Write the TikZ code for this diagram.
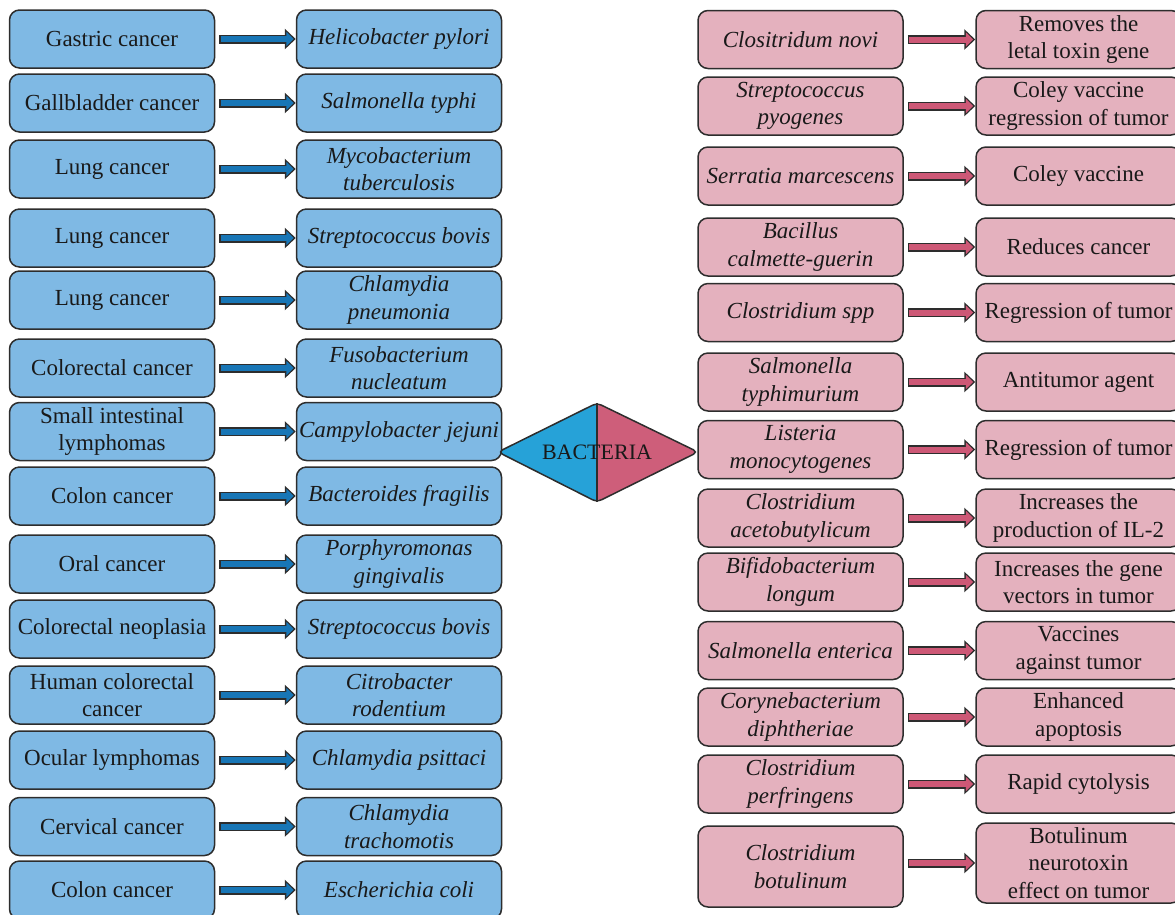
\documentclass[tikz,border=0pt]{standalone}
\usepackage{fontspec}
\setmainfont{Liberation Serif}
\usetikzlibrary{arrows.meta}
\definecolor{cblue}{RGB}{127,185,228}
\definecolor{cpink}{RGB}{228,177,190}
\definecolor{ablue}{RGB}{24,118,182}
\definecolor{apink}{RGB}{205,88,118}
\definecolor{dblue}{RGB}{38,162,216}
\definecolor{dpink}{RGB}{206,94,122}
\definecolor{edge}{RGB}{45,45,45}
\tikzset{
  box/.style={draw=edge, line width=1.5pt, rounded corners=10pt, minimum width=205pt, minimum height=58pt,
    inner sep=2pt, align=center, text=black!90, font=\fontsize{23}{27.5}\selectfont},
  cbox/.style={box, fill=cblue},
  bbox/.style={box, fill=cblue, font=\fontsize{23}{27.5}\selectfont\itshape},
  pbox/.style={box, fill=cpink, font=\fontsize{23}{27.5}\selectfont\itshape},
  ebox/.style={box, fill=cpink},
  barr/.style={line width=9pt, draw=edge, shorten <=4pt, -{Triangle[length=11pt,width=20pt]},
    postaction={draw=#1, line width=6pt, shorten <=5.5pt, shorten >=2pt, -{Triangle[length=7.5pt,width=14pt]}}}
}
\begin{document}
\begin{tikzpicture}[x=1pt,y=-1pt]
  \useasboundingbox (0,0) rectangle (1175,914);
  % cancers and bacteria
  \node[cbox] (c1) at (112,39) {Gastric cancer};
  \node[bbox] (b1) at (399,39) {Helicobacter pylori};
  \node[cbox] (c2) at (112,103) {Gallbladder cancer};
  \node[bbox] (b2) at (399,103) {Salmonella typhi};
  \node[cbox] (c3) at (112,169) {Lung cancer};
  \node[bbox] (b3) at (399,169) {Mycobacterium\\tuberculosis};
  \node[cbox] (c4) at (112,238) {Lung cancer};
  \node[bbox] (b4) at (399,238) {Streptococcus bovis};
  \node[cbox] (c5) at (112,300) {Lung cancer};
  \node[bbox] (b5) at (399,300) {Chlamydia\\pneumonia};
  \node[cbox] (c6) at (112,368) {Colorectal cancer};
  \node[bbox] (b6) at (399,368) {Fusobacterium\\nucleatum};
  \node[cbox] (c7) at (112,431.5) {Small intestinal\\lymphomas};
  \node[bbox] (b7) at (399,431.5) {Campylobacter jejuni};
  \node[cbox] (c8) at (112,496) {Colon cancer};
  \node[bbox] (b8) at (399,496) {Bacteroides fragilis};
  \node[cbox] (c9) at (112,564) {Oral cancer};
  \node[bbox] (b9) at (399,564) {Porphyromonas\\gingivalis};
  \node[cbox] (c10) at (112,629) {Colorectal neoplasia};
  \node[bbox] (b10) at (399,629) {Streptococcus bovis};
  \node[cbox] (c11) at (112,695) {Human colorectal\\cancer};
  \node[bbox] (b11) at (399,695) {Citrobacter\\rodentium};
  \node[cbox] (c12) at (112,760) {Ocular lymphomas};
  \node[bbox] (b12) at (399,760) {Chlamydia psittaci};
  \node[cbox] (c13) at (112,826.5) {Cervical cancer};
  \node[bbox] (b13) at (399,826.5) {Chlamydia\\trachomotis};
  \node[cbox] (c14) at (112,890) {Colon cancer};
  \node[bbox] (b14) at (399,890) {Escherichia coli};
  \foreach \i in {1,...,14}
    \draw[barr=ablue] (c\i) -- (b\i);
  % centre
  \coordinate (dl) at (498,452);
  \coordinate (dt) at (597,403);
  \coordinate (dr) at (698,452);
  \coordinate (db) at (597,502);
  \fill[dblue, rounded corners=5pt] (dl) -- (dt) -- (db) -- cycle;
  \fill[dpink, rounded corners=5pt] (dt) -- (dr) -- (db) -- cycle;
  \draw[edge, line width=1.5pt, rounded corners=5pt] (dl) -- (dt) -- (dr) -- (db) -- cycle;
  \draw[edge, line width=2pt] (dt) -- (db);
  \node[font=\fontsize{22}{26}\selectfont, text=black!90] (bac) at (597,452) {BACTERIA};
  % bacteria and effects
  \node[pbox] (p1) at (800.5,39.5) {Clositridum novi};
  \node[ebox] (e1) at (1078.5,39.5) {Removes the\\letal toxin gene};
  \node[pbox] (p2) at (800.5,106) {Streptococcus\\pyogenes};
  \node[ebox] (e2) at (1078.5,106) {Coley vaccine\\regression of tumor};
  \node[pbox] (p3) at (800.5,176) {Serratia marcescens};
  \node[ebox] (e3) at (1078.5,176) {Coley vaccine};
  \node[pbox] (p4) at (800.5,247) {Bacillus\\calmette-guerin};
  \node[ebox] (e4) at (1078.5,247) {Reduces cancer};
  \node[pbox] (p5) at (800.5,312.5) {Clostridium spp};
  \node[ebox] (e5) at (1078.5,312.5) {Regression of tumor};
  \node[pbox] (p6) at (800.5,382) {Salmonella\\typhimurium};
  \node[ebox] (e6) at (1078.5,382) {Antitumor agent};
  \node[pbox] (p7) at (800.5,449.5) {Listeria\\monocytogenes};
  \node[ebox] (e7) at (1078.5,449.5) {Regression of tumor};
  \node[pbox] (p8) at (800.5,518) {Clostridium\\acetobutylicum};
  \node[ebox] (e8) at (1078.5,518) {Increases the\\production of IL-2};
  \node[pbox] (p9) at (800.5,582) {Bifidobacterium\\longum};
  \node[ebox] (e9) at (1078.5,582) {Increases the gene\\vectors in tumor};
  \node[pbox] (p10) at (800.5,650.5) {Salmonella enterica};
  \node[ebox] (e10) at (1078.5,650.5) {Vaccines\\against tumor};
  \node[pbox] (p11) at (800.5,717) {Corynebacterium\\diphtheriae};
  \node[ebox] (e11) at (1078.5,717) {Enhanced\\apoptosis};
  \node[pbox] (p12) at (800.5,784) {Clostridium\\perfringens};
  \node[ebox] (e12) at (1078.5,784) {Rapid cytolysis};
  \node[pbox, minimum height=81pt] (p13) at (800.5,866.5) {Clostridium\\botulinum};
  \node[ebox, minimum height=80pt] (e13) at (1078.5,863) {Botulinum\\neurotoxin\\effect on tumor};
  \foreach \i in {1,...,12}
    \draw[barr=apink] (p\i) -- (e\i);
  \draw[barr=apink] (p13.east |- e13.west) -- (e13.west);
\end{tikzpicture}
\end{document}
